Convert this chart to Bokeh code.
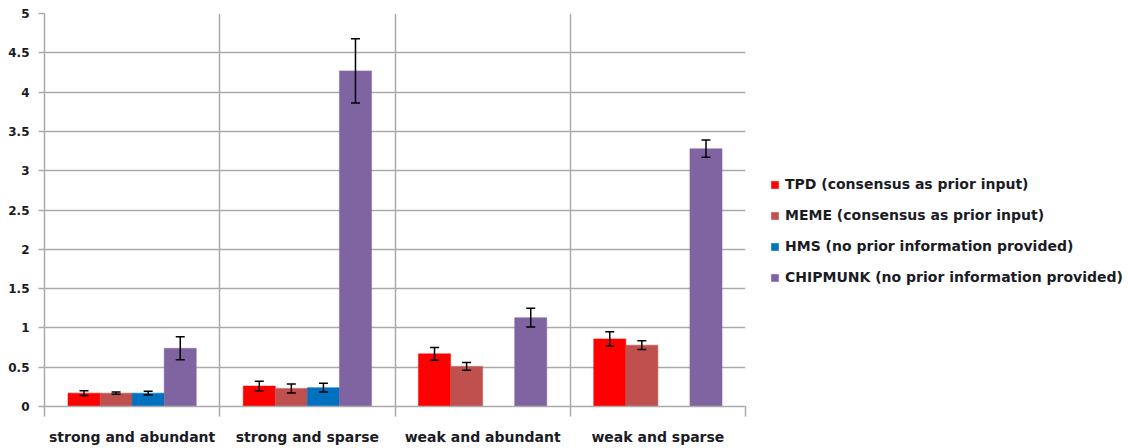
from bokeh.plotting import figure
from bokeh.models import (Range1d, FixedTicker, ColumnDataSource, Whisker, TeeHead,
                          Legend, LegendItem)
from bokeh.embed import file_html
from bokeh.resources import INLINE

categories = ["strong and abundant", "strong and sparse", "weak and abundant", "weak and sparse"]
series_names = ["TPD (consensus as prior input)", "MEME (consensus as prior input)",
                "HMS (no prior information provided)", "CHIPMUNK (no prior information provided)"]
colors = ["#ff0000", "#c0504d", "#0070c0", "#8064a2"]

tpd_values = [0.17, 0.26, 0.67, 0.86]
tpd_errors = [0.03, 0.06, 0.08, 0.09]
meme_values = [0.17, 0.23, 0.51, 0.78]
meme_errors = [0.015, 0.057, 0.05, 0.055]
hms_values = [0.17, 0.24, None, None]
hms_errors = [0.025, 0.057, None, None]
chipmunk_values = [0.74, 4.27, 1.13, 3.28]
chipmunk_errors = [0.146, 0.41, 0.12, 0.11]

y_ticks = [0, 0.5, 1, 1.5, 2, 2.5, 3, 3.5, 4, 4.5, 5]
y_tick_labels = ["0", "0.5", "1", "1.5", "2", "2.5", "3", "3.5", "4", "4.5", "5"]

all_values = [tpd_values, meme_values, hms_values, chipmunk_values]
all_errors = [tpd_errors, meme_errors, hms_errors, chipmunk_errors]

FONT = "DejaVu Sans"
TEXT = "#1b1b25"
GRID = "#aaaaaa"

p = figure(width=1128, height=448, output_backend="svg", toolbar_location=None,
           x_range=Range1d(0, 4), y_range=Range1d(0, 5),
           min_border_left=44, min_border_right=0, min_border_top=13, min_border_bottom=42,
           frame_width=701, frame_height=393)
p.outline_line_color = None
p.background_fill_color = "white"
p.border_fill_color = "white"

# grid: horizontal at value ticks, vertical at category boundaries
p.ygrid.ticker = FixedTicker(ticks=y_ticks)
p.ygrid.grid_line_color = GRID
p.ygrid.grid_line_width = 1.5
p.xgrid.ticker = FixedTicker(ticks=[1, 2, 3, 4])
p.xgrid.grid_line_color = GRID
p.xgrid.grid_line_width = 1.5

# y axis
p.yaxis.ticker = FixedTicker(ticks=y_ticks)
p.yaxis.major_label_overrides = {t: s for t, s in zip(y_ticks, y_tick_labels)}
p.yaxis.axis_line_color = GRID
p.yaxis.axis_line_width = 1.5
p.yaxis.major_tick_line_color = GRID
p.yaxis.major_tick_line_width = 1.5
p.yaxis.major_tick_out = 6
p.yaxis.major_tick_in = 0
p.yaxis.minor_tick_line_color = None
p.yaxis.major_label_standoff = 9
p.yaxis.major_label_text_font = FONT
p.yaxis.major_label_text_font_style = "bold"
p.yaxis.major_label_text_font_size = "12px"
p.yaxis.major_label_text_color = TEXT

# x axis: labels at category centres, tick marks at category boundaries
centers = [i + 0.5 for i in range(len(categories))]
p.xaxis.ticker = FixedTicker(ticks=centers, minor_ticks=[0, 1, 2, 3, 4])
p.xaxis.major_label_overrides = {c: name for c, name in zip(centers, categories)}
p.xaxis.axis_line_color = GRID
p.xaxis.axis_line_width = 1.5
p.xaxis.major_tick_line_color = None
p.xaxis.major_tick_out = 0
p.xaxis.major_tick_in = 0
p.xaxis.minor_tick_line_color = GRID
p.xaxis.minor_tick_line_width = 1.5
p.xaxis.minor_tick_out = 10
p.xaxis.minor_tick_in = 0
p.xaxis.major_label_standoff = 12
p.xaxis.major_label_text_font = FONT
p.xaxis.major_label_text_font_style = "bold"
p.xaxis.major_label_text_font_size = "14px"
p.xaxis.major_label_text_color = TEXT

bar_w = 0.183
offsets = [-1.5, -0.5, 0.5, 1.5]
legend_items = []
for k, (name, color, vals, errs) in enumerate(zip(series_names, colors, all_values, all_errors)):
    xs, tops, lows, highs = [], [], [], []
    for i, (v, e) in enumerate(zip(vals, errs)):
        if v is None:
            continue
        xs.append(centers[i] + offsets[k] * bar_w)
        tops.append(v)
        lows.append(v - e)
        highs.append(v + e)
    src = ColumnDataSource(dict(x=xs, top=tops, lower=lows, upper=highs))
    r = p.vbar(x="x", top="top", width=bar_w, bottom=0, source=src,
               fill_color=color, line_color=color, line_alpha=0.5, line_width=1)
    w = Whisker(base="x", lower="lower", upper="upper", source=src, dimension="height",
                line_color="black", line_width=1.5, level="overlay",
                upper_head=TeeHead(size=9, line_color="black", line_width=1.5),
                lower_head=TeeHead(size=9, line_color="black", line_width=1.5))
    p.add_layout(w)
    legend_items.append(LegendItem(label=name, renderers=[r]))

legend = Legend(items=legend_items, location=(25, 119))
legend.background_fill_alpha = 0
legend.border_line_color = None
legend.glyph_width = 9
legend.glyph_height = 9
legend.label_height = 20
legend.spacing = 11
legend.label_standoff = 6
legend.padding = 0
legend.margin = 0
legend.label_text_font = FONT
legend.label_text_font_style = "bold"
legend.label_text_font_size = "14px"
legend.label_text_color = TEXT
p.add_layout(legend, "right")

open("out.html", "w").write(file_html(p, INLINE))
